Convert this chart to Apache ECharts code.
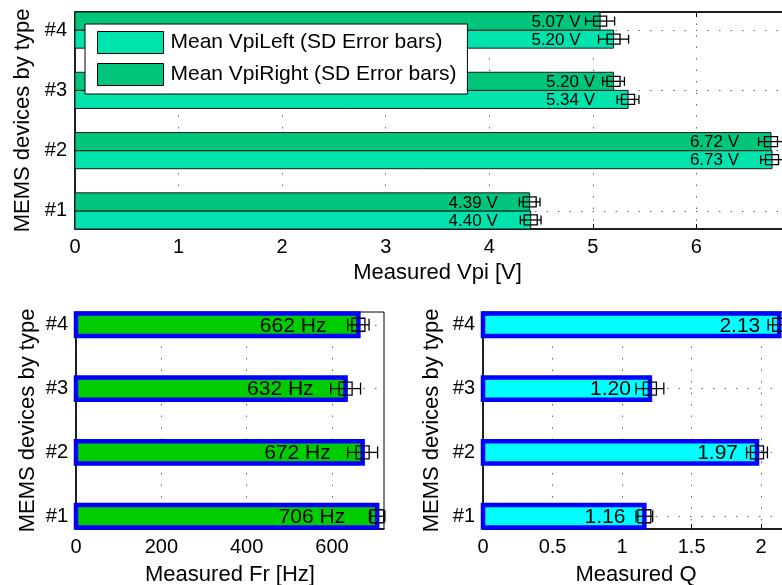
<!DOCTYPE html>
<html><head><meta charset="utf-8">
<script src="https://cdn.jsdelivr.net/npm/echarts@6/dist/echarts.min.js"></script>
<style>html,body{margin:0;padding:0;background:#fff}#c{width:782px;height:585px}</style>
</head><body><div id="c"></div>
<script>
// ---- data ----
const devices = ['#1', '#2', '#3', '#4'];
const vpiLeft = [4.40, 6.73, 5.34, 5.20];
const vpiRight = [4.39, 6.72, 5.20, 5.07];
const vpiLeftSD = [0.10, 0.11, 0.105, 0.145];
const vpiRightSD = [0.10, 0.12, 0.105, 0.14];
const frMean = [706, 672, 632, 662];
const frSD = [18, 35, 35, 25];
const qMean = [1.16, 1.97, 1.20, 2.13];
const qSD = [0.06, 0.075, 0.10, 0.08];
const vpiTicks = [0, 1, 2, 3, 4, 5, 6, 7];
const frTicks = [0, 200, 400, 600];
const qTicks = [0, 0.5, 1, 1.5, 2];
const catTicks = [1, 2, 3, 4];
const legendNames = ['Mean VpiLeft (SD Error bars)', 'Mean VpiRight (SD Error bars)'];

const FONT = 'Arial, "Liberation Sans", Helvetica, sans-serif';
const vpiGroupMax = vpiLeft.map((v, i) => Math.max(v, vpiRight[i]));

function barSeries(cfg) {
  const data = cfg.values.map((v, i) => [v, i + 1, cfg.sds[i], cfg.ref ? cfg.ref[i] : v]);
  return {
    type: 'custom', name: cfg.name, xAxisIndex: cfg.xi, yAxisIndex: cfg.yi, data: data,
    itemStyle: { color: cfg.fill, borderColor: cfg.stroke, borderWidth: 1 },
    encode: { x: 0, y: 1 }, z: 3, clip: false, silent: true,
    renderItem: function (params, api) {
      const v = api.value(0), c = api.value(1) + cfg.off, sd = api.value(2), ref = api.value(3);
      const a = api.coord([0, c + cfg.h / 2]), b = api.coord([v, c - cfg.h / 2]);
      const m = api.coord([v, c]), lo = api.coord([v - sd, c]), hi = api.coord([v + sd, c]), r = api.coord([ref, c]);
      const cap = cfg.cap / 2, sw = cfg.sq[0] / 2, sh = cfg.sq[1] / 2;
      const ls = { stroke: '#000', lineWidth: 1.3 };
      return { type: 'group', children: [
        { type: 'rect', shape: { x: a[0], y: a[1], width: b[0] - a[0], height: b[1] - a[1] },
          style: { fill: cfg.fill, stroke: cfg.stroke, lineWidth: cfg.lw } },
        { type: 'text', style: { text: cfg.fmt(v), x: r[0] - cfg.gap, y: m[1] + 1, align: 'right', verticalAlign: 'middle',
          fill: '#000', fontSize: cfg.fs, fontFamily: FONT } },
        { type: 'line', shape: { x1: lo[0], y1: m[1], x2: hi[0], y2: m[1] }, style: ls },
        { type: 'line', shape: { x1: lo[0], y1: m[1] - cap, x2: lo[0], y2: m[1] + cap }, style: ls },
        { type: 'line', shape: { x1: hi[0], y1: m[1] - cap, x2: hi[0], y2: m[1] + cap }, style: ls },
        { type: 'rect', shape: { x: m[0] - sw, y: m[1] - sh, width: 2 * sw, height: 2 * sh }, style: { fill: null, stroke: '#000', lineWidth: 1.3 } }
      ] };
    }
  };
}

const dotted = { show: true, lineStyle: { color: '#666', width: 1, type: [1.5, 10] } };
const axLine = { show: true, onZero: false, lineStyle: { color: '#000', width: 1.5 } };
const tick = (vals) => ({ show: true, inside: true, length: 5, customValues: vals, lineStyle: { color: '#000', width: 1 } });

function xAx(grid, max, ticks, name, gap, fmt) {
  return { gridIndex: grid, type: 'value', min: 0, max: max, position: 'bottom',
    axisLine: axLine, axisTick: tick(ticks),
    axisLabel: { customValues: ticks, fontSize: 20, color: '#000', fontFamily: FONT, margin: 8, formatter: fmt },
    splitLine: dotted, name: name, nameLocation: 'middle', nameGap: gap,
    nameTextStyle: { fontSize: 22, color: '#000', fontFamily: FONT } };
}
function yAx(grid, min, max, gap) {
  return { gridIndex: grid, type: 'value', min: min, max: max,
    axisLine: axLine, axisTick: tick(catTicks),
    axisLabel: { customValues: catTicks, fontSize: 20, color: '#000', fontFamily: FONT, margin: 8,
      formatter: v => devices[Math.round(v) - 1] },
    splitLine: dotted, name: 'MEMS devices by type', nameLocation: 'middle', nameGap: gap,
    nameTextStyle: { fontSize: 22, color: '#000', fontFamily: FONT } };
}

const chart = echarts.init(document.getElementById('c'), null, { renderer: 'canvas' });
chart.setOption({
  animation: false,
  backgroundColor: '#fff',
  grid: [
    { left: 75, right: -18, top: 12, bottom: 356, show: true, borderColor: '#000', borderWidth: 1, backgroundColor: 'transparent', outerBoundsMode: 'none' },
    { left: 76, right: 398, top: 312, bottom: 56, show: true, borderColor: '#000', borderWidth: 1, backgroundColor: 'transparent', outerBoundsMode: 'none' },
    { left: 483, right: -7, top: 312, bottom: 56, show: true, borderColor: '#000', borderWidth: 1, backgroundColor: 'transparent', outerBoundsMode: 'none' }
  ],
  xAxis: [
    xAx(0, 7, vpiTicks, 'Measured Vpi [V]', 33),
    xAx(1, 722, frTicks, 'Measured Fr [Hz]', 35),
    xAx(2, 2.2, qTicks, 'Measured Q', 35, v => String(v)),
    { gridIndex: 0, type: 'value', min: 0, max: 7, position: 'top', axisLine: axLine, axisTick: tick(vpiTicks),
      axisLabel: { show: false }, splitLine: { show: false } }
  ],
  yAxis: [ yAx(0, 0.7, 4.3, 36), yAx(1, 0.8, 4.2, 37), yAx(2, 0.8, 4.2, 40) ],
  legend: {
    orient: 'vertical', left: 85, top: 24, icon: 'rect',
    itemWidth: 66, itemHeight: 22, itemGap: 9,
    padding: [7, 11, 8, 12],
    backgroundColor: '#fff', borderColor: '#000', borderWidth: 1, borderRadius: 0,
    itemStyle: { borderColor: '#000', borderWidth: 1 },
    textStyle: { fontSize: 21, color: '#000', fontFamily: FONT, padding: [0, 0, 0, 2] },
    selectedMode: false,
    data: legendNames
  },
  series: [
    barSeries({ name: legendNames[0], xi: 0, yi: 0, values: vpiLeft, sds: vpiLeftSD, ref: vpiGroupMax, off: -0.15, h: 0.3,
      fill: '#00E3AD', stroke: '#1a1a1a', lw: 1, fmt: v => v.toFixed(2) + ' V', gap: 33, fs: 17, cap: 9, sq: [13, 10] }),
    barSeries({ name: legendNames[1], xi: 0, yi: 0, values: vpiRight, sds: vpiRightSD, ref: vpiGroupMax, off: 0.15, h: 0.3,
      fill: '#00C67C', stroke: '#1a1a1a', lw: 1, fmt: v => v.toFixed(2) + ' V', gap: 33, fs: 17, cap: 9, sq: [13, 10] }),
    barSeries({ name: 'Fr', xi: 1, yi: 1, values: frMean, sds: frSD, off: 0, h: 0.35,
      fill: '#00CC00', stroke: '#0000FF', lw: 4.5, fmt: v => Math.round(v) + ' Hz', gap: 32, fs: 21, cap: 12, sq: [13, 13] }),
    barSeries({ name: 'Q', xi: 2, yi: 2, values: qMean, sds: qSD, off: 0, h: 0.35,
      fill: '#00FFFF', stroke: '#0000FF', lw: 4.5, fmt: v => v.toFixed(2), gap: 19, fs: 21, cap: 12, sq: [13, 13] })
  ]
});
</script></body></html>
